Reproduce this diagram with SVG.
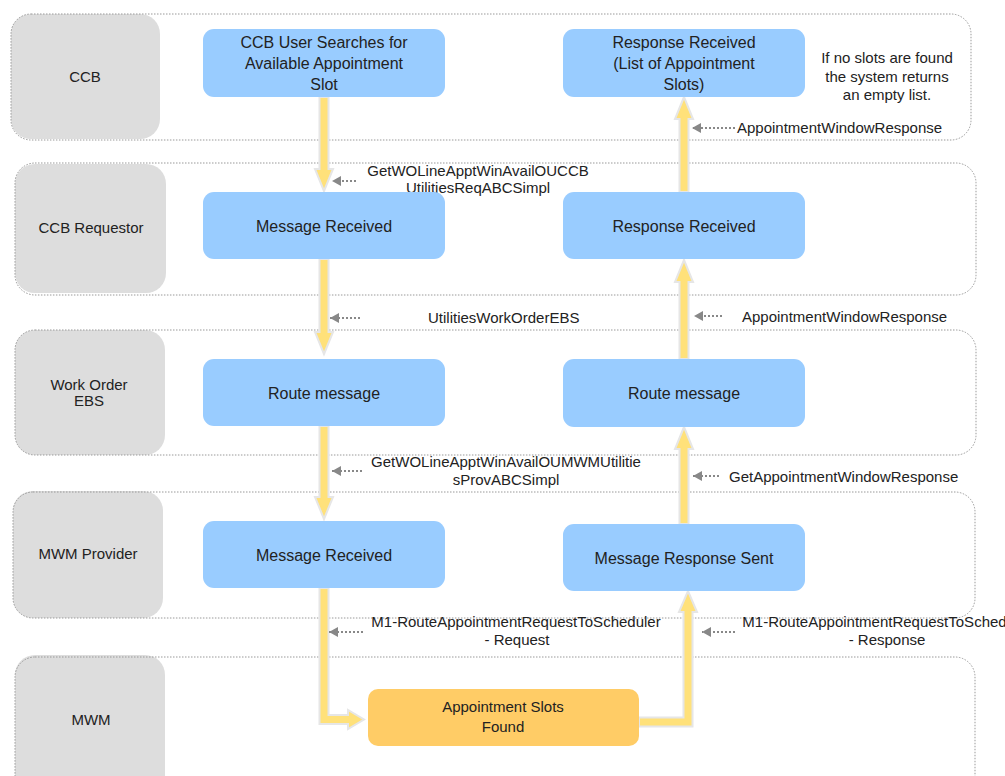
<svg xmlns="http://www.w3.org/2000/svg" width="1005" height="776" viewBox="0 0 1005 776">
<style>
text{font-family:"Liberation Sans",Arial,sans-serif;fill:#222}
.lane{fill:none;stroke:#999;stroke-width:1;stroke-dasharray:1.5 1.5}
.lbl{fill:#DDDDDD}
.lt{font-size:15px;text-anchor:middle}
.node{fill:#99CCFF}
.nodeo{fill:#FFCC66}
.nt{font-size:16px;text-anchor:middle}
.ot{font-size:15px;text-anchor:middle}
.flow{fill:#FFE17A;stroke:#E6E6E6;stroke-width:2;stroke-linejoin:miter}
.msg{stroke:#888;stroke-width:2;stroke-dasharray:2 2;fill:none}
.ml{font-size:15px}
.mlc{font-size:15px;text-anchor:middle}
</style>
<defs>
<marker id="ah" markerUnits="userSpaceOnUse" markerWidth="9" markerHeight="10" refX="9" refY="5" orient="auto">
<path d="M0,0 L9,5 L0,10 Z" fill="#888"/>
</marker>
</defs>
<rect width="1005" height="776" fill="#fff"/>

<g id="lane-ccb">
<rect class="lbl" x="11" y="14" width="149" height="125" rx="20"/>
<rect class="lane" x="11" y="14" width="960" height="126" rx="20"/>
<text class="lt" x="85" y="82">CCB</text>
</g>
<g id="lane-ccb-requestor">
<rect class="lbl" x="15" y="164" width="151" height="129" rx="20"/>
<rect class="lane" x="15" y="163" width="961" height="132" rx="20"/>
<text class="lt" x="91" y="233">CCB Requestor</text>
</g>
<g id="lane-work-order-ebs">
<rect class="lbl" x="15" y="330" width="150" height="125" rx="20"/>
<rect class="lane" x="15" y="330" width="961" height="125" rx="20"/>
<text class="lt" x="89" y="390">Work Order</text>
<text class="lt" x="89" y="406">EBS</text>
</g>
<g id="lane-mwm-provider">
<rect class="lbl" x="13" y="491" width="150" height="127" rx="20"/>
<rect class="lane" x="13" y="492" width="962" height="126" rx="20"/>
<text class="lt" x="88" y="559">MWM Provider</text>
</g>
<g id="lane-mwm">
<rect class="lbl" x="15" y="655" width="150" height="140" rx="20"/>
<rect class="lane" x="15" y="657" width="960" height="140" rx="20"/>
<text class="lt" x="91" y="725">MWM</text>
</g>

<g id="connectors">
<polygon class="flow" points="319.5,97 328.5,97 328.5,169 333,169 324,191 315,169 319.5,169"/>
<polygon class="flow" points="319.5,259 328.5,259 328.5,332 333,332 324,354 315,332 319.5,332"/>
<polygon class="flow" points="319.5,426 328.5,426 328.5,497 333,497 324,519 315,497 319.5,497"/>
<path class="flow" d="M319.5,588 H328.5 V715 H348 V710 L364,719.5 L348,729 V724 H319.5 Z"/>
<path class="flow" d="M639,717.5 H683.5 V612 H679 L688,591 L697,612 H692.5 V726.5 H639 Z"/>
<polygon class="flow" points="679.5,524 688.5,524 688.5,449 693,449 684,427 675,449 679.5,449"/>
<polygon class="flow" points="679.5,359 688.5,359 688.5,282 693,282 684,260 675,282 679.5,282"/>
<polygon class="flow" points="679.5,192 688.5,192 688.5,119 693,119 684,97 675,119 679.5,119"/>

<line class="msg" x1="356" y1="181" x2="332" y2="181" marker-end="url(#ah)"/>
<line class="msg" x1="360" y1="318" x2="330" y2="318" marker-end="url(#ah)"/>
<line class="msg" x1="362" y1="471" x2="332" y2="471" marker-end="url(#ah)"/>
<line class="msg" x1="363" y1="632" x2="329" y2="632" marker-end="url(#ah)"/>
<line class="msg" x1="735" y1="128" x2="692" y2="128" marker-end="url(#ah)"/>
<line class="msg" x1="722" y1="316" x2="694" y2="316" marker-end="url(#ah)"/>
<line class="msg" x1="719" y1="476" x2="693" y2="476" marker-end="url(#ah)"/>
<line class="msg" x1="735" y1="632" x2="702" y2="632" marker-end="url(#ah)"/>

<text class="mlc" x="478" y="176">GetWOLineApptWinAvailOUCCB</text>
<text class="mlc" x="478" y="193">UtilitiesReqABCSimpl</text>
<text class="ml" x="428" y="323">UtilitiesWorkOrderEBS</text>
<text class="mlc" x="506" y="467">GetWOLineApptWinAvailOUMWMUtilitie</text>
<text class="mlc" x="506" y="485">sProvABCSimpl</text>
<text class="mlc" x="516" y="627">M1-RouteAppointmentRequestToScheduler</text>
<text class="mlc" x="517" y="645">- Request</text>
<text class="ml" x="737" y="133">AppointmentWindowResponse</text>
<text class="ml" x="742" y="322">AppointmentWindowResponse</text>
<text class="ml" x="729" y="482">GetAppointmentWindowResponse</text>
<text class="mlc" x="887" y="627">M1-RouteAppointmentRequestToScheduler</text>
<text class="mlc" x="887" y="645">- Response</text>
</g>

<g id="node-ccb-search">
<rect class="node" x="203" y="29" width="242" height="68" rx="11"/>
<text class="nt" x="324" y="48">CCB User Searches for</text>
<text class="nt" x="324" y="69">Available Appointment</text>
<text class="nt" x="324" y="90">Slot</text>
</g>
<g id="node-response-list">
<rect class="node" x="563" y="29" width="242" height="68" rx="11"/>
<text class="nt" x="684" y="48">Response Received</text>
<text class="nt" x="684" y="69">(List of Appointment</text>
<text class="nt" x="684" y="90">Slots)</text>
</g>
<g id="note-empty">
<text class="ot" x="887" y="63">If no slots are found</text>
<text class="ot" x="887" y="82">the system returns</text>
<text class="ot" x="887" y="100">an empty list.</text>
</g>
<g id="node-req-message-received">
<rect class="node" x="203" y="192" width="242" height="67" rx="11"/>
<text class="nt" x="324" y="232">Message Received</text>
</g>
<g id="node-req-response-received">
<rect class="node" x="563" y="192" width="242" height="67" rx="11"/>
<text class="nt" x="684" y="232">Response Received</text>
</g>
<g id="node-ebs-route-req">
<rect class="node" x="203" y="359" width="242" height="67" rx="11"/>
<text class="nt" x="324" y="399">Route message</text>
</g>
<g id="node-ebs-route-resp">
<rect class="node" x="563" y="359" width="242" height="68" rx="11"/>
<text class="nt" x="684" y="399">Route message</text>
</g>
<g id="node-prov-message-received">
<rect class="node" x="203" y="521" width="242" height="67" rx="11"/>
<text class="nt" x="324" y="561">Message Received</text>
</g>
<g id="node-prov-response-sent">
<rect class="node" x="563" y="524" width="242" height="67" rx="11"/>
<text class="nt" x="684" y="564">Message Response Sent</text>
</g>
<g id="node-slots-found">
<rect class="nodeo" x="368" y="689" width="271" height="57" rx="10"/>
<text class="ot" x="503" y="712">Appointment Slots</text>
<text class="ot" x="503" y="732">Found</text>
</g>
</svg>
